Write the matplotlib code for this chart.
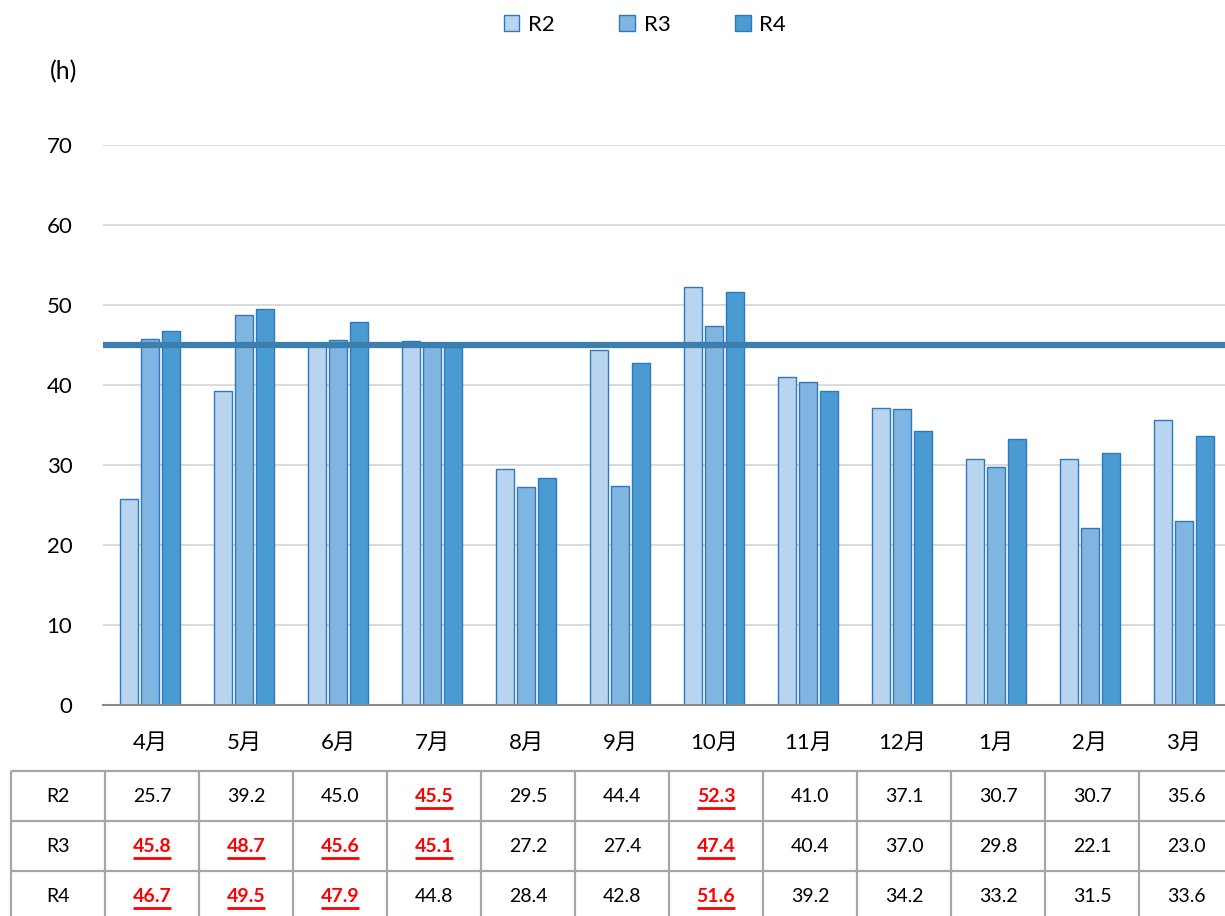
import matplotlib.pyplot as plt
import numpy as np
from matplotlib.patches import Patch

plt.rcParams['font.family'] = ['Lato', 'Noto Sans CJK JP', 'DejaVu Sans']

months = ['4月', '5月', '6月', '7月', '8月', '9月', '10月', '11月', '12月', '1月', '2月', '3月']
series = ['R2', 'R3', 'R4']
r2 = [25.7, 39.2, 45.0, 45.5, 29.5, 44.4, 52.3, 41.0, 37.1, 30.7, 30.7, 35.6]
r3 = [45.8, 48.7, 45.6, 45.1, 27.2, 27.4, 47.4, 40.4, 37.0, 29.8, 22.1, 23.0]
r4 = [46.7, 49.5, 47.9, 44.8, 28.4, 42.8, 51.6, 39.2, 34.2, 33.2, 31.5, 33.6]
limit = 45.0

fills = ['#b8d4ee', '#80b4e1', '#4a9bd2']
edge = '#2e78bd'

W, H = 1225, 916
fig = plt.figure(figsize=(W / 100, H / 100), dpi=100)

# chart axes, runs past the right edge like the reference
ax = fig.add_axes([103 / W, (H - 705) / H, 12 * 94 / W, (705 - 145) / H])
x = np.arange(len(months))
bw = 0.185
off = 0.223
for i, (vals, c) in enumerate(zip([r2, r3, r4], fills)):
    ax.bar(x + (i - 1) * off, vals, bw, color=c, edgecolor=edge, linewidth=1.0, zorder=2)
ax.axhline(limit, color='#3c7fae', lw=4.5, zorder=3)

ax.set_xlim(-0.5, 11.5)
ax.set_ylim(0, 70)
ax.set_yticks(np.arange(0, 71, 10))
ax.grid(axis='y', color='#d9d9d9', lw=1.3, zorder=0)
ax.set_axisbelow(True)
for s in ['top', 'right', 'left']:
    ax.spines[s].set_visible(False)
ax.spines['bottom'].set_color('#898989')
ax.spines['bottom'].set_linewidth(1.5)
ax.spines['bottom'].set_zorder(4)
ax.set_xticks(x)
ax.set_xticklabels(months)
ax.tick_params(axis='x', length=0, pad=20, labelsize=16)
ax.tick_params(axis='y', length=0, pad=22, labelsize=16)
fig.text(64 / W, 1 - 72 / H, '(h)', ha='center', va='center', fontsize=18)

handles = [Patch(facecolor=c, edgecolor=edge, lw=1.0) for c in fills]
fig.legend(handles, series, loc='center', bbox_to_anchor=(645 / W, 1 - 25 / H), ncol=3,
           frameon=False, fontsize=16, handlelength=0.7, handleheight=0.7,
           handletextpad=0.4, columnspacing=2.9)

# data table
tax = fig.add_axes([11 / W, (H - 921) / H, 13 * 94 / W, 150 / H])
tax.set_xlim(0, 13)
tax.set_ylim(3, 0)
tax.axis('off')
tax.vlines(np.arange(14), 0, 3, color='#a6a6a6', lw=1.6, clip_on=False)
tax.hlines(np.arange(4), 0, 13, color='#a6a6a6', lw=1.6, clip_on=False)

texts = []
for r, (name, vals) in enumerate(zip(series, [r2, r3, r4])):
    tax.text(0.5, r + 0.5, name, ha='center', va='center', fontsize=14)
    for c, v in enumerate(vals):
        hot = v > limit
        t = tax.text(c + 1.5, r + 0.5, f'{v:.1f}', ha='center', va='center',
                     fontsize=14, color='red' if hot else 'black',
                     fontweight='bold' if hot else 'normal')
        if hot:
            texts.append((t, r))

fig.canvas.draw()
inv = tax.transData.inverted()
for t, r in texts:
    bb = t.get_window_extent()
    (x0, _), (x1, _) = inv.transform([(bb.x0, bb.y0), (bb.x1, bb.y0)])
    tax.plot([x0, x1], [r + 0.74, r + 0.74], color='red', lw=2.0, solid_capstyle='butt')

fig.savefig('out.png', dpi=100)
